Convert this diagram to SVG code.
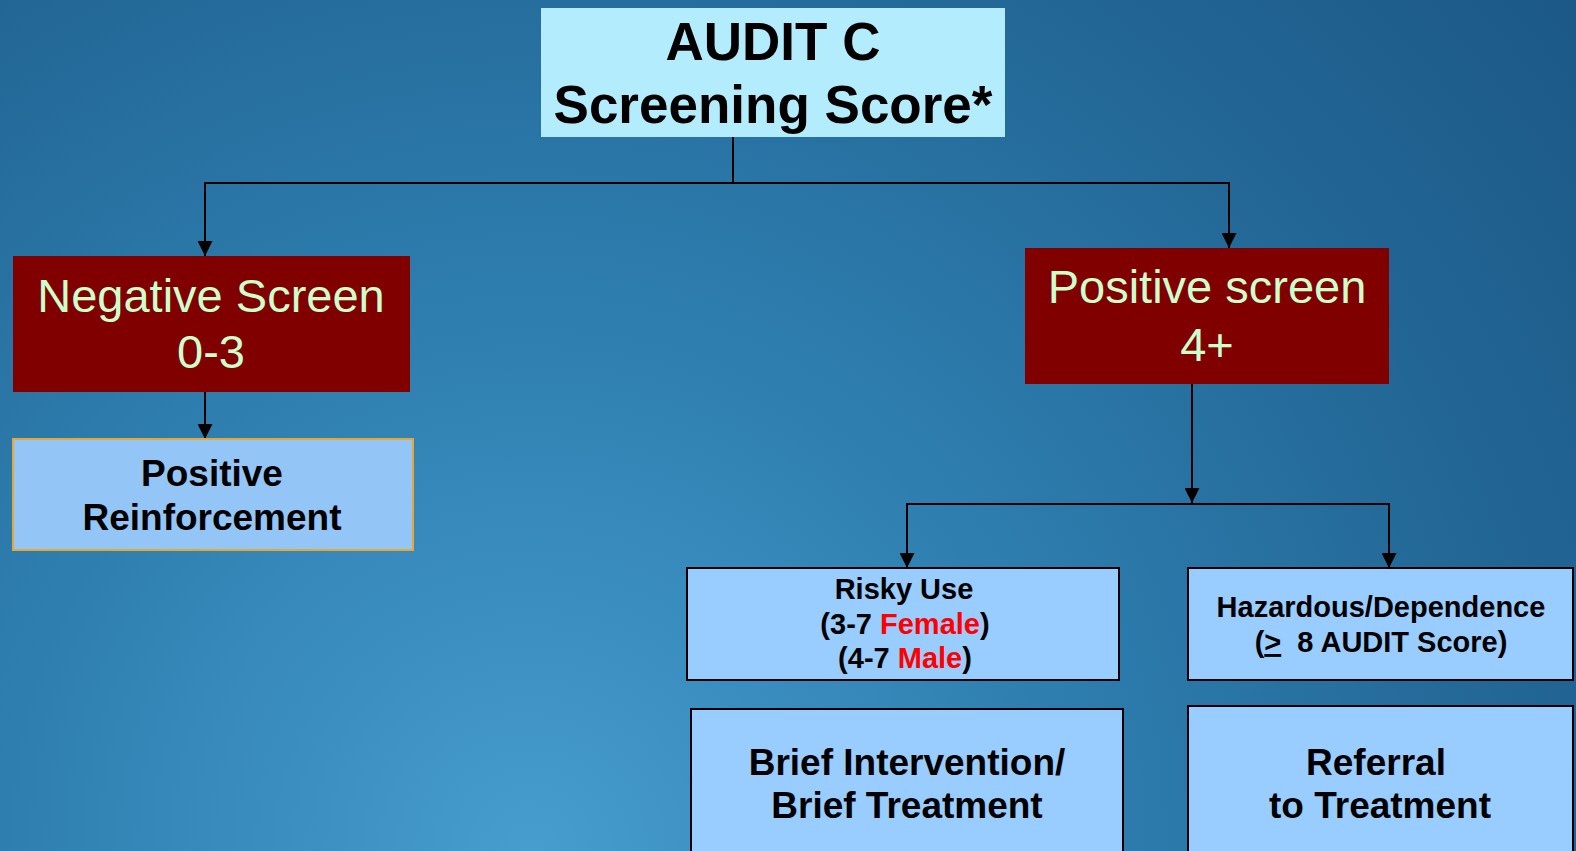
<svg xmlns="http://www.w3.org/2000/svg" width="1576" height="851" viewBox="0 0 1576 851">
  <defs>
    <radialGradient id="bg" gradientUnits="userSpaceOnUse" cx="530" cy="851" r="1350">
      <stop offset="0" stop-color="#469dce"/>
      <stop offset="0.39" stop-color="#2e7fb0"/>
      <stop offset="0.74" stop-color="#226695"/>
      <stop offset="1" stop-color="#1b5887"/>
    </radialGradient>
    <marker id="arrow" markerUnits="userSpaceOnUse" markerWidth="15" markerHeight="15" refX="15" refY="7.5" orient="auto">
      <path d="M0,0 L15,7.5 L0,15 z" fill="#000"/>
    </marker>
    <style>
      .title { font-family: "Liberation Sans", Arial, sans-serif; font-weight: bold; font-size: 53px; fill: #000; text-anchor: middle; }
      .screen { font-family: "Liberation Sans", Arial, sans-serif; font-size: 47px; fill: #ccffcc; text-anchor: middle; }
      .red { fill: #800000; }
      .blue { fill: #99ccff; stroke: #000; stroke-width: 2; }
      .lbl { font-family: "Liberation Sans", Arial, sans-serif; font-weight: bold; fill: #000; text-anchor: middle; }
      .hl { fill: #ff0000; }
      .wire { fill: none; stroke: #000; stroke-width: 2; }
    </style>
  </defs>

  <rect x="0" y="0" width="1576" height="851" fill="url(#bg)"/>

  <!-- connectors -->
  <g id="connectors">
    <polyline class="wire" points="733,137 733,183"/>
    <polyline class="wire" points="733,183 205,183 205,256" marker-end="url(#arrow)"/>
    <polyline class="wire" points="733,183 1229,183 1229,248" marker-end="url(#arrow)"/>
    <polyline class="wire" points="205,392 205,439" marker-end="url(#arrow)"/>
    <polyline class="wire" points="1192,384 1192,503" marker-end="url(#arrow)"/>
    <polyline class="wire" points="1192,504 907,504 907,568" marker-end="url(#arrow)"/>
    <polyline class="wire" points="1192,504 1389,504 1389,568" marker-end="url(#arrow)"/>
  </g>

  <!-- AUDIT C score -->
  <g id="audit-c">
    <rect x="541" y="8" width="464" height="129" fill="#b3ecfc"/>
    <text class="title" x="773" y="60">AUDIT C</text>
    <text class="title" x="773" y="123">Screening Score*</text>
  </g>

  <!-- negative branch -->
  <g id="negative-screen">
    <rect class="red" x="13" y="256" width="397" height="136"/>
    <text class="screen" x="211" y="312">Negative Screen</text>
    <text class="screen" x="211" y="368">0-3</text>
  </g>

  <g id="positive-reinforcement">
    <rect x="13" y="439" width="400" height="111" fill="#93c6f6" stroke="#e8a634" stroke-width="2"/>
    <text class="lbl" font-size="37" x="212" y="486">Positive</text>
    <text class="lbl" font-size="37" x="212" y="530">Reinforcement</text>
  </g>

  <!-- positive branch -->
  <g id="positive-screen">
    <rect class="red" x="1025" y="248" width="364" height="136"/>
    <text class="screen" x="1207" y="303">Positive screen</text>
    <text class="screen" x="1207" y="361">4+</text>
  </g>

  <g id="risky-use">
    <rect class="blue" x="687" y="568" width="432" height="112"/>
    <text class="lbl" font-size="29" x="904" y="599">Risky Use</text>
    <text class="lbl" font-size="29" x="905" y="634">(3-7 <tspan class="hl">Female</tspan>)</text>
    <text class="lbl" font-size="29" x="905" y="668">(4-7 <tspan class="hl">Male</tspan>)</text>
  </g>

  <g id="hazardous-dependence">
    <rect class="blue" x="1188" y="568" width="385" height="112"/>
    <text class="lbl" font-size="29" x="1381" y="617">Hazardous/Dependence</text>
    <text class="lbl" font-size="29" x="1381" y="652" xml:space="preserve">(<tspan text-decoration="underline">&gt;</tspan>  8 AUDIT Score)</text>
  </g>

  <g id="brief-intervention">
    <rect class="blue" x="691" y="709" width="432" height="160"/>
    <text class="lbl" font-size="37" x="907" y="775">Brief Intervention/</text>
    <text class="lbl" font-size="37" x="907" y="818">Brief Treatment</text>
  </g>

  <g id="referral">
    <rect class="blue" x="1188" y="706" width="385" height="160"/>
    <text class="lbl" font-size="37" x="1376" y="775">Referral</text>
    <text class="lbl" font-size="37" x="1380" y="818">to Treatment</text>
  </g>
</svg>
